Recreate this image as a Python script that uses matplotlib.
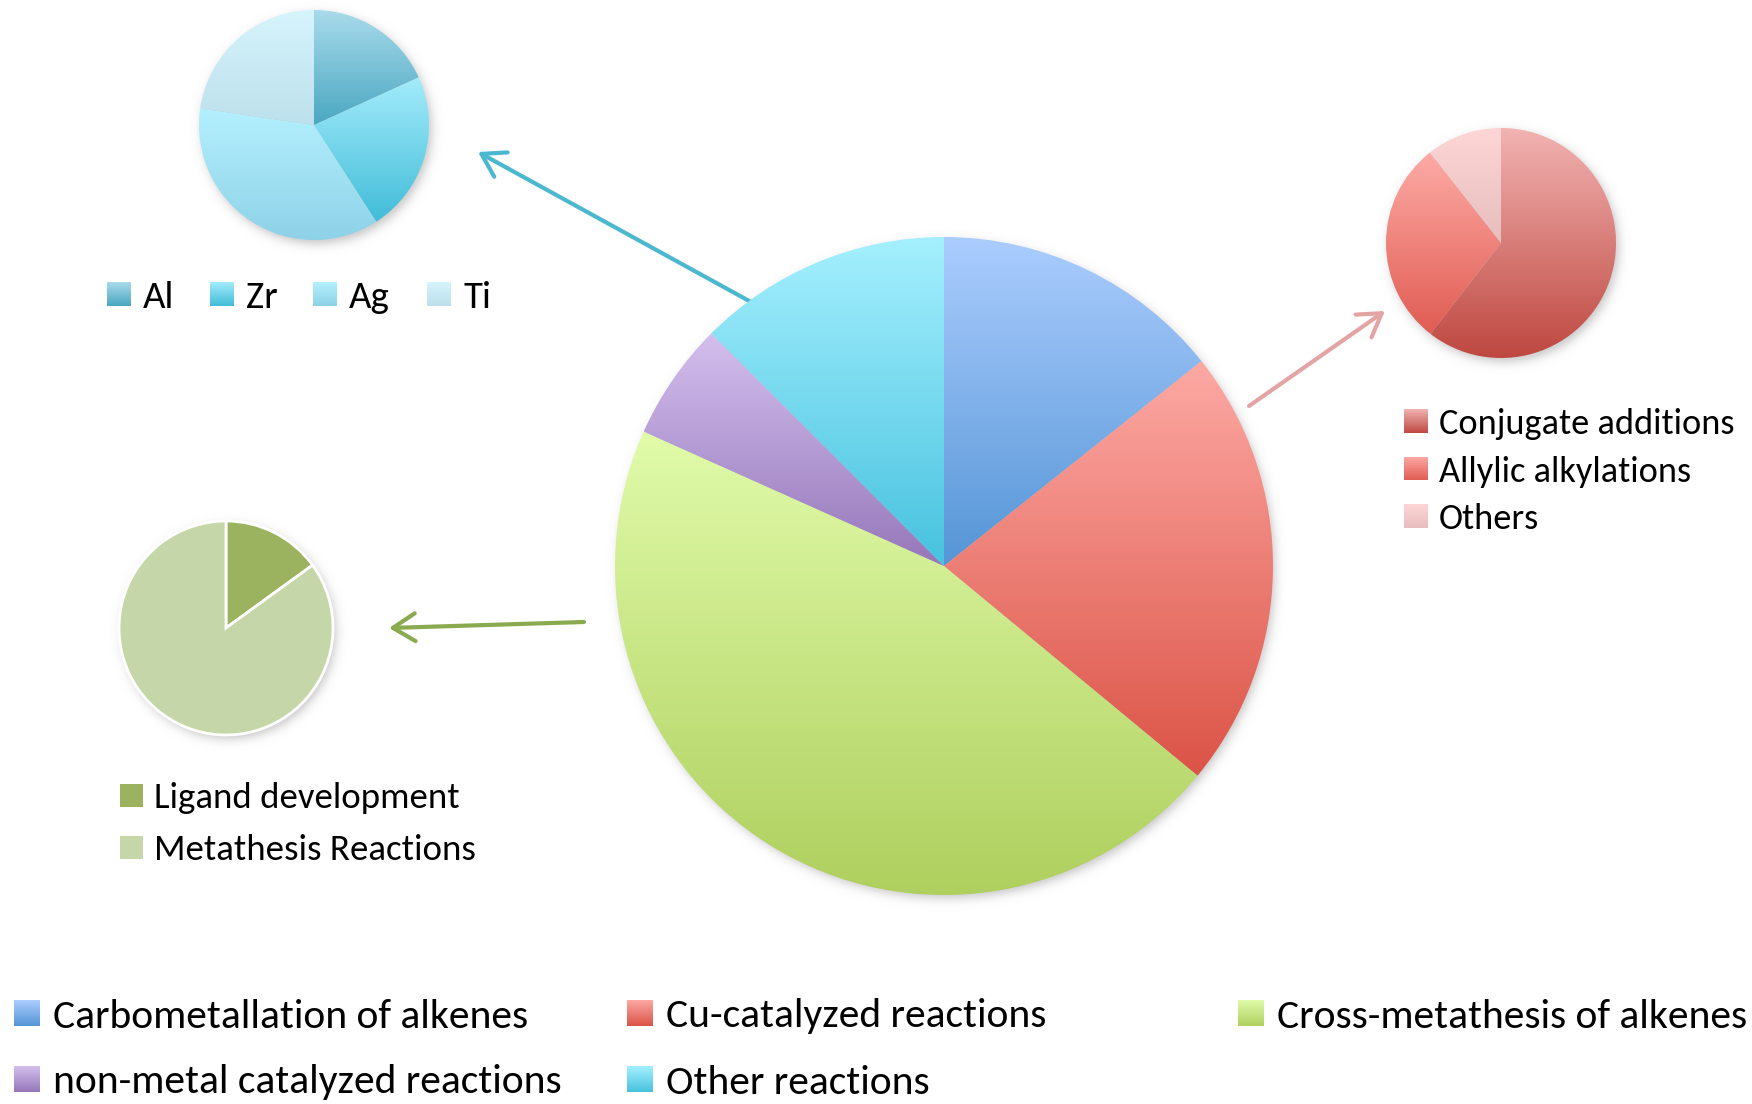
import numpy as np
import matplotlib
matplotlib.use("Agg")
import matplotlib.pyplot as plt
from matplotlib import font_manager
from matplotlib.colors import LinearSegmentedColormap, to_rgb
from matplotlib.patches import Rectangle

# pick a narrow sans face when one is installed
_installed = {f.name for f in font_manager.fontManager.ttflist}
_narrow = [n for n in ["Carlito", "Liberation Sans Narrow", "Roboto Condensed",
                       "Open Sans Condensed", "Noto Sans Condensed"]
           if n in _installed]
_condensed_dejavu = any(f.name == "DejaVu Sans" and f.stretch == "condensed"
                        for f in font_manager.fontManager.ttflist)
if _narrow:
    FAMILY = [_narrow[0], "DejaVu Sans"]
    STRETCH = "normal"
elif _condensed_dejavu:
    FAMILY = ["DejaVu Sans"]
    STRETCH = "condensed"
else:
    FAMILY = ["Lato", "DejaVu Sans"]
    STRETCH = "normal"
plt.rcParams['font.family'] = FAMILY
plt.rcParams['font.stretch'] = STRETCH

# ---- data -------------------------------------------------------------
main_labels = ["Carbometallation of alkenes", "Cu-catalyzed reactions",
               "Cross-metathesis of alkenes", "non-metal catalyzed reactions",
               "Other reactions"]
main_values = [14.3, 21.7, 45.7, 5.8, 12.5]

metal_labels = ["Al", "Zr", "Ag", "Ti"]
metal_values = [18.2, 22.7, 36.4, 22.7]

cu_labels = ["Conjugate additions", "Allylic alkylations", "Others"]
cu_values = [60.5, 28.9, 10.6]

meta_labels = ["Ligand development", "Metathesis Reactions"]
meta_values = [15.0, 85.0]

# ---- styles (top colour, bottom colour) ----------------------------------
main_colors = [("#abcdfe", "#5595d6"), ("#fda9a4", "#db5346"),
               ("#e1fbaa", "#afcf5e"), ("#d3bfee", "#9677ba"),
               ("#a5f0fe", "#47c2df")]
metal_colors = [("#a9dbeb", "#4aa7c1"), ("#a3ecfb", "#41bcd8"),
                ("#b4f0fe", "#8ed2e8"), ("#d6f4fc", "#bce0ec")]
cu_colors = [("#f2b3b2", "#be4840"), ("#fdaba6", "#e05c52"),
             ("#fed6d6", "#e7bdbd")]
meta_colors = [("#9bb35e", "#9bb35e"), ("#c5d6a9", "#c5d6a9")]

W, H = 1752, 1104
fig = plt.figure(figsize=(W / 100, H / 100), dpi=100)
ax = fig.add_axes([0, 0, 1, 1])
ax.set_axis_off()
ax.set_xlim(0, W)
ax.set_ylim(0, H)
renderer = fig.canvas.get_renderer()


def Y(y):
    """Convert a top-down pixel row into the y-up data coordinate."""
    return H - y


def gradient_fill(patch, top, bottom, zorder=3):
    ext = patch.get_path().get_extents(patch.get_patch_transform())
    cmap = LinearSegmentedColormap.from_list("g", [to_rgb(bottom), to_rgb(top)])
    grad = np.linspace(0, 1, 256).reshape(-1, 1)
    im = ax.imshow(grad, cmap=cmap, origin="lower", aspect="auto",
                   extent=(ext.x0, ext.x1, ext.y0, ext.y1),
                   interpolation="bilinear", zorder=zorder)
    im.set_clip_path(patch)


def shadow(cx, cy, r, dx=3, dy=-4, strength=0.35):
    pad = 25
    n = 300
    xs = np.linspace(cx - r - pad, cx + r + pad, n)
    ys = np.linspace(cy - r - pad, cy + r + pad, n)
    X, Yg = np.meshgrid(xs, ys)
    d = np.hypot(X - (cx + dx), Yg - (cy + dy))
    a = strength / (1 + np.exp((d - r) / 3.0))
    img = np.zeros((n, n, 4))
    img[..., :3] = 0.35
    img[..., 3] = a
    ax.imshow(img, origin="lower", aspect="auto",
              extent=(xs[0], xs[-1], ys[0], ys[-1]), zorder=1,
              interpolation="bilinear")


def draw_pie(values, colors, cx, cy, r, edge=None):
    shadow(cx, Y(cy), r)
    wedges, _ = ax.pie(values, center=(cx, Y(cy)), radius=r, startangle=90,
                       counterclock=False, frame=True,
                       wedgeprops=dict(linewidth=0))
    for w, (top, bottom) in zip(wedges, colors):
        if top == bottom:
            w.set_facecolor(top)
            w.set_zorder(3)
            if edge:
                w.set_edgecolor(edge)
                w.set_linewidth(2)
        else:
            w.set_facecolor("none")
            w.set_zorder(4)
            gradient_fill(w, top, bottom)
    return wedges


def legend_group(items, size, text_dx, max_size, widths=None):
    """Square swatches plus labels; one font size per group, fitted to widths."""
    texts = []
    for (x, y), colors, label in items:
        top, bottom = colors
        rect = Rectangle((x, Y(y) - size / 2), size, size, facecolor="none",
                         edgecolor="none", zorder=3)
        ax.add_patch(rect)
        if top == bottom:
            rect.set_facecolor(top)
        else:
            gradient_fill(rect, top, bottom)
        texts.append(ax.text(x + text_dx, Y(y), label, fontsize=max_size,
                             va="center_baseline", ha="left", color="black",
                             zorder=5))
    if widths:
        scale = min(1.0, min(wd / t.get_window_extent(renderer).width
                             for t, wd in zip(texts, widths)))
        for t in texts:
            t.set_fontsize(max_size * scale)


# pies
draw_pie(main_values, main_colors, 944, 566, 329)
draw_pie(metal_values, metal_colors, 314, 125, 115)
draw_pie(cu_values, cu_colors, 1501, 243, 115)
draw_pie(meta_values, meta_colors, 226, 628, 107, edge="white")

# arrows from the main pie to the detail pies
arrows = [((751, 302), (478, 152), "#4bb8d0"),
          ((1249, 406), (1385, 311), "#e2a5a4"),
          ((584, 622), (389, 628), "#8aaa4f")]
for (tx, ty), (hx, hy), c in arrows:
    ax.annotate("", xy=(hx, Y(hy)), xytext=(tx, Y(ty)),
                arrowprops=dict(arrowstyle="->,head_length=0.8,head_width=0.5",
                                color=c, lw=3.0, shrinkA=0, shrinkB=0,
                                mutation_scale=20), zorder=2)

# legends of the detail pies
legend_group([((x, 294), col, lab) for x, col, lab in
              zip([107, 210, 313, 427], metal_colors, metal_labels)],
             24, 36, 28)

legend_group([((1404, 421 + i * 47.5), col, lab) for i, (col, lab) in
              enumerate(zip(cu_colors, cu_labels))],
             24, 35, 30, widths=[300, 252, 104])

legend_group([((120, 795 + i * 52), col, lab) for i, (col, lab) in
              enumerate(zip(meta_colors, meta_labels))],
             23, 34, 30, widths=[305, 322])

# legend of the main pie
main_pos = [(14, 1013), (627, 1013), (1238, 1013), (14, 1079), (627, 1079)]
legend_group(list(zip(main_pos, main_colors, main_labels)), 26, 39, 34,
             widths=[478, 382, 470, 510, 270])

ax.set_xlim(0, W)
ax.set_ylim(0, H)
fig.savefig("out.png", dpi=100, facecolor="white")
